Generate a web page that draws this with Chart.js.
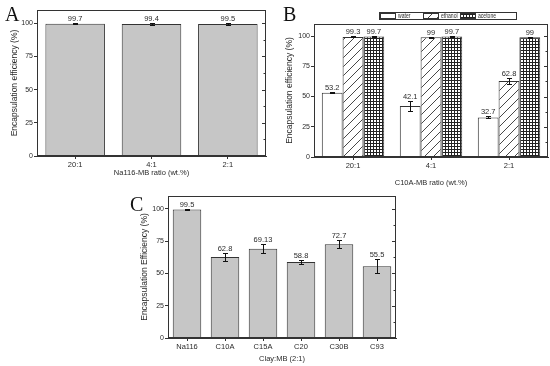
<!DOCTYPE html>
<html>
<head>
<meta charset="utf-8">
<script src="https://cdn.jsdelivr.net/npm/chart.js@4.4.1/dist/chart.umd.min.js"></script>
<style>
  body { margin: 0; background: #fff; }
  #page { position: relative; width: 550px; height: 366px; overflow: hidden; background: #fff; }
  canvas { position: absolute; }
  .tag { position: absolute; font-family: 'Liberation Serif', 'DejaVu Serif', serif; font-size: 20px; line-height: 20px; color: #111; }
</style>
</head>
<body>
<div id="page">
  <canvas id="chartA" width="275" height="185" style="left:0;top:0"></canvas>
  <canvas id="chartB" width="275" height="190" style="left:275px;top:0"></canvas>
  <canvas id="chartC" width="290" height="181" style="left:130px;top:185px"></canvas>
  <div class="tag" style="left:5px;top:4px">A</div>
  <div class="tag" style="left:283px;top:4px">B</div>
  <div class="tag" style="left:130px;top:194px">C</div>
</div>
<script>
// panel A: Na116-MB
const ratioLabels = ['20:1', '4:1', '2:1']
const na116Values = [99.7, 99.4, 99.5]
const na116Errors = [0.2, 0.5, 0.5]

// panel B: C10A-MB in three solvents
const solventNames = ['water', 'ethanol', 'acetone']
const waterValues = [53.2, 42.1, 32.7]
const waterErrors = [0.6, 4.2, 0.8]
const ethanolValues = [99.3, 99, 62.8]
const ethanolErrors = [0.4, 0.3, 2.5]
const acetoneValues = [99.7, 99.7, 99]
const acetoneErrors = [0.2, 0.2, 0.4]

// panel C: clay types at 2:1
const clayLabels = ['Na116', 'C10A', 'C15A', 'C20', 'C30B', 'C93']
const clayValues = [99.5, 62.8, 69.13, 58.8, 72.7, 55.5]
const clayErrors = [0.4, 2.8, 3.5, 1.6, 3.0, 5.4]

const yTicks = [0, 25, 50, 75, 100]
const yMax = 110

const ink = '#2a2a2a'
const sans = "'Liberation Sans', Arial, sans-serif"
Chart.defaults.font.family = sans
Chart.defaults.color = ink
Chart.defaults.animation = false

// fill patterns for panel B
const makePattern = (size, draw) => {
    const c = document.createElement('canvas')
    c.width = size; c.height = size
    const g = c.getContext('2d')
    g.fillStyle = '#fff'
    g.fillRect(0, 0, size, size)
    draw(g, size)
    return g.createPattern(c, 'repeat')
}
const hatch = makePattern(9, (g, s) => {
    g.strokeStyle = '#333'
    g.lineWidth = 0.9
    g.beginPath()
    g.moveTo(-1, s + 1); g.lineTo(s + 1, -1)
    g.moveTo(-1, 1); g.lineTo(1, -1)
    g.moveTo(s - 1, s + 1); g.lineTo(s + 1, s - 1)
    g.stroke()
})
const grid = makePattern(3, (g, s) => {
    g.fillStyle = '#222'
    g.fillRect(0, 2, s, 1)
    g.fillRect(2, 0, 1, s)
})

// error bars + value labels above them
const errorBars = {
    id: 'errorBars',
    afterDatasetsDraw(chart) {
        const ctx = chart.ctx
        const y = chart.scales.y
        chart.data.datasets.forEach((ds, i) => {
            chart.getDatasetMeta(i).data.forEach((bar, j) => {
                const v = ds.data[j], e = ds.errors[j]
                const top = Math.round(y.getPixelForValue(v + e)) + 0.5
                const bot = Math.round(y.getPixelForValue(v - e)) + 0.5
                const x = Math.round(bar.x) + 0.5
                ctx.save()
                ctx.strokeStyle = '#111'
                ctx.lineWidth = 1
                ctx.beginPath()
                ctx.moveTo(x, top); ctx.lineTo(x, bot)
                ctx.moveTo(x - 2.5, top); ctx.lineTo(x + 2.5, top)
                ctx.moveTo(x - 2.5, bot); ctx.lineTo(x + 2.5, bot)
                ctx.stroke()
                ctx.fillStyle = ink
                ctx.font = '7.5px ' + sans
                ctx.textAlign = 'center'
                ctx.textBaseline = 'bottom'
                ctx.fillText(String(v), bar.x, top - 1)
                ctx.restore()
            })
        })
    }
}

// box around the plot, inward ticks on the right side
const frame = {
    id: 'frame',
    afterDraw(chart) {
        const { ctx, chartArea: a, scales: { y } } = chart
        const l = Math.round(a.left) + 0.5, t = Math.round(a.top) + 0.5
        const r = Math.round(a.right) - 0.5, b = Math.round(a.bottom) - 0.5
        ctx.save()
        ctx.strokeStyle = '#333'
        ctx.lineWidth = 1
        ctx.strokeRect(l, t, r - l, b - t)
        ctx.beginPath()
        for (let v = 0; v <= 100; v += 12.5) {
            const py = Math.round(y.getPixelForValue(v)) + 0.5
            ctx.moveTo(r, py)
            ctx.lineTo(r - (v % 25 === 0 ? 3.5 : 2), py)
        }
        ctx.stroke()
        ctx.restore()
    }
}

// small boxed legend of panel B
const boxLegend = {
    id: 'boxLegend',
    afterDraw(chart) {
        const ctx = chart.ctx
        const left = 104, top = 12, h = 7
        const slots = [1, 44, 81]
        ctx.save()
        ctx.strokeStyle = '#333'
        ctx.lineWidth = 1
        ctx.strokeRect(left + 0.5, top + 0.5, 137, h)
        chart.data.datasets.forEach((ds, i) => {
            const x = left + slots[i]
            ctx.fillStyle = ds.backgroundColor
            ctx.fillRect(x, top + 1, 16, h - 1)
            ctx.strokeRect(x + 0.5, top + 1.5, 15, h - 2)
            // labels are squeezed sideways like in the source figure
            ctx.save()
            ctx.translate(x + 18, top + h / 2 + 1)
            ctx.scale(0.78, 1)
            ctx.fillStyle = ink
            ctx.font = '6.5px ' + sans
            ctx.textBaseline = 'middle'
            ctx.fillText(ds.label, 0, 0)
            ctx.restore()
        })
        ctx.restore()
    }
}

const makeOptions = ({ yWidth, xHeight, padTop, padRight, yTitle, xTitle, xPadBottom, yPadTop }) => ({
    responsive: false,
    layout: { padding: { top: padTop, right: padRight, left: 0, bottom: 0 } },
    plugins: { legend: { display: false }, tooltip: { enabled: false } },
    scales: {
        x: {
            grid: { offset: false, drawOnChartArea: false, tickLength: 3, color: '#333' },
            border: { color: '#333' },
            ticks: { font: { size: 7.5 }, padding: 1, maxRotation: 0 },
            title: { display: true, text: xTitle, font: { size: 7.5 }, padding: { top: 0, bottom: xPadBottom } },
            afterFit: (s) => { s.height = xHeight }
        },
        y: {
            min: 0,
            max: yMax,
            afterBuildTicks: (s) => { s.ticks = yTicks.map(v => ({ value: v })) },
            grid: { drawOnChartArea: false, tickLength: 3, color: '#333' },
            border: { color: '#333' },
            ticks: { font: { size: 7 }, padding: 1 },
            title: { display: true, text: yTitle, font: { size: 8.5 }, padding: { top: yPadTop, bottom: 0 } },
            afterFit: (s) => { s.width = yWidth }
        }
    }
})

const barStyle = { backgroundColor: '#c6c6c6', borderColor: '#333', borderWidth: 1 }

new Chart(document.getElementById('chartA'), {
    type: 'bar',
    data: {
        labels: ratioLabels,
        datasets: [{ data: na116Values, errors: na116Errors, ...barStyle, barPercentage: 0.78, categoryPercentage: 1 }]
    },
    options: makeOptions({ yWidth: 37, xHeight: 29, padTop: 10, padRight: 9,
        yTitle: 'Encapsulation efficiency (%)', xTitle: 'Na116-MB ratio (wt.%)', xPadBottom: 7.5, yPadTop: 10 }),
    plugins: [errorBars, frame]
})

const solventFills = [
    { backgroundColor: '#fff' },
    { backgroundColor: hatch },
    { backgroundColor: grid }
]
const solventValues = [waterValues, ethanolValues, acetoneValues]
const solventErrors = [waterErrors, ethanolErrors, acetoneErrors]

new Chart(document.getElementById('chartB'), {
    type: 'bar',
    data: {
        labels: ratioLabels,
        datasets: solventNames.map((name, i) => ({
            label: name, data: solventValues[i], errors: solventErrors[i],
            borderColor: '#333', borderWidth: 1, ...solventFills[i],
            barPercentage: 1, categoryPercentage: 0.8
        }))
    },
    options: makeOptions({ yWidth: 39, xHeight: 33, padTop: 24, padRight: 2,
        yTitle: 'Encapsulation efficiency (%)', xTitle: 'C10A-MB ratio (wt.%)', xPadBottom: 2.5, yPadTop: 10 }),
    plugins: [errorBars, frame, boxLegend]
})

new Chart(document.getElementById('chartC'), {
    type: 'bar',
    data: {
        labels: clayLabels,
        datasets: [{ data: clayValues, errors: clayErrors, ...barStyle, barPercentage: 0.75, categoryPercentage: 1 }]
    },
    options: makeOptions({ yWidth: 38, xHeight: 28, padTop: 11, padRight: 24,
        yTitle: 'Encapsulation Efficiency (%)', xTitle: 'Clay:MB (2:1)', xPadBottom: 2.5, yPadTop: 10 }),
    plugins: [errorBars, frame]
})
</script>
</body>
</html>
